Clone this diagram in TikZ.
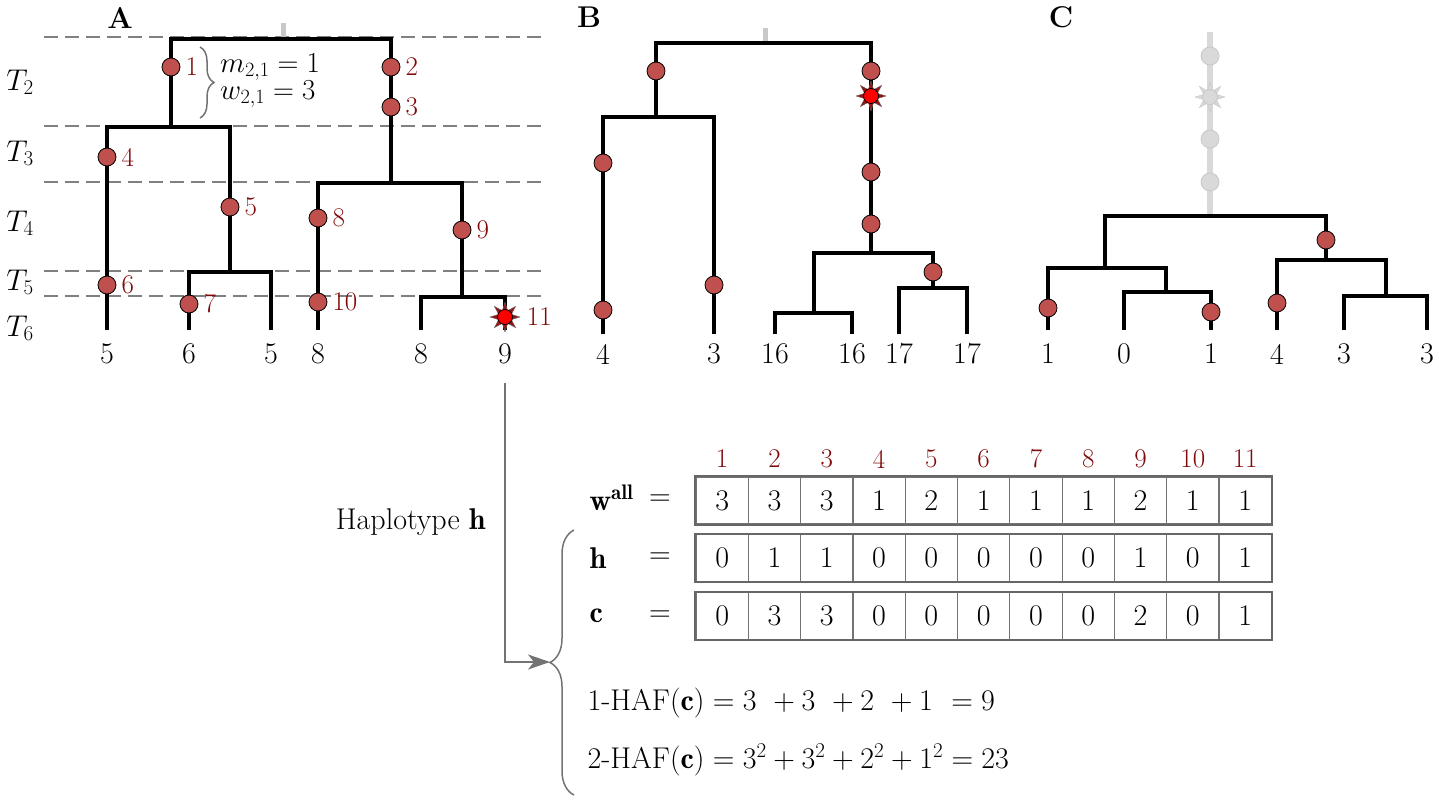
\RequirePackage{fix-cm}
\documentclass[tikz,border=0pt]{standalone}
\usepackage{fontspec}
\usepackage{amsmath}
\usetikzlibrary{calc}
\usetikzlibrary{arrows.meta}
\usetikzlibrary{shapes.geometric}
\usetikzlibrary{decorations.pathreplacing}
\definecolor{mutfill}{RGB}{192,80,77}
\definecolor{labred}{RGB}{128,10,10}
\definecolor{spike}{RGB}{150,20,20}
\definecolor{ghost}{RGB}{217,217,217}
\definecolor{ghostline}{RGB}{200,200,200}

\begin{document}
\begin{tikzpicture}[x=1pt,y=-1pt,font=\fontsize{30}{36}\selectfont,
  branch/.style={line width=3.5pt},
  level/.style={gray,dash pattern=on 14pt off 7pt,line width=2.8pt},
  stub/.style={ghostline,line width=5pt},
  mut/.style={circle,fill=mutfill,draw=black,line width=0.8pt,minimum size=18pt,inner sep=0pt},
  gmut/.style={circle,fill=ghost,draw=ghostline,line width=0.8pt,minimum size=18pt,inner sep=0pt},
  spikes/.style={star,star points=8,star point ratio=2.2,fill=spike,draw=black!60,line width=0.4pt,minimum size=30pt,inner sep=0pt},
  gspikes/.style={star,star points=8,star point ratio=2.2,fill=ghost,draw=ghostline,line width=0.4pt,minimum size=30pt,inner sep=0pt},
  core/.style={circle,fill=red,draw=black,line width=0.8pt,minimum size=15pt,inner sep=0pt},
  gcore/.style={circle,fill=ghost,draw=ghostline,line width=0.8pt,minimum size=15pt,inner sep=0pt},
  mlab/.style={labred,font=\fontsize{27}{32}\selectfont,anchor=west,inner sep=0pt},
  leaflab/.style={inner sep=3pt},
  cell/.style={draw=black!55,line width=1.2pt,minimum width=52.3pt,minimum height=47pt,inner sep=0pt},
  frame/.style={draw=black!60,line width=2pt},
  brc/.style={draw=black!55,line width=1.5pt,decorate},
  conn/.style={draw=black!55,line width=1.5pt}]
\useasboundingbox (0,0) rectangle (1439,800);

% time levels of A
\foreach \ly in {37,126,182,271,296}
  \draw[level] (44,\ly) -- (546,\ly);
\foreach \k/\ly in {2/82,3/153,4/223,5/282,6/328}
  \node (T\k) at (20,\ly) {$T_{\k}$};

% panel letters
\node (pA) at (120,18) {\textbf{A}};
\node (pB) at (589,17) {\textbf{B}};
\node (pC) at (1061,17) {\textbf{C}};

% tree A
\coordinate (A0) at (283,39);
\coordinate (A1) at (171,127);
\coordinate (A2) at (391,183);
\coordinate (A3) at (230,272);
\coordinate (A4) at (462,297);
\coordinate (a1) at (107,330);
\coordinate (a2) at (189,330);
\coordinate (a3) at (271,330);
\coordinate (a4) at (318,330);
\coordinate (a5) at (421,330);
\coordinate (a6) at (505,330);
\draw[stub] (A0) -- ++(0,-16);
\draw[branch] (A1) |- (A0) -| (A2);
\draw[branch] (a1) |- (A1) -| (A3);
\draw[branch] (a2) |- (A3) -| (a3);
\draw[branch] (a4) |- (A2) -| (A4);
\draw[branch] (a5) |- (A4) -| (a6);
\foreach \n/\x/\y in {1/171/67,2/391/67,3/391/107,4/107/157,5/230/207,6/107/285,
                      7/189/304,8/318/218,9/462/230,10/318/302}{
  \node[mut] (m\n) at (\x,\y) {};
  \node[mlab] (lm\n) at ([xshift=5pt]m\n.east) {\n};
}
\node[spikes] (m11s) at (505,317) {};
\node[core] (m11) at (505,317) {};
\node[mlab] (lm11) at ([xshift=6pt]m11s.east) {11};
\draw[brc,decoration={brace,amplitude=14pt}] (200,47) -- (200,118);
\node[anchor=west,inner sep=0pt,font=\fontsize{29}{34}\selectfont] (mA) at (220,67) {$m_{2,1}=1$};
\node[anchor=west,inner sep=0pt,font=\fontsize{29}{34}\selectfont] (wA) at (220,94) {$w_{2,1}=3$};
\foreach \p/\t in {a1/5,a2/6,a3/5,a4/8,a5/8,a6/9}
  \node[leaflab] (l\p) at (\p |- 0,354) {\t};

% tree B
\coordinate (B0) at (765,43);
\coordinate (B1) at (656,117);
\coordinate (B2) at (871,253);
\coordinate (B3) at (814,313);
\coordinate (B4) at (933,288);
\coordinate (b1) at (603,334);
\coordinate (b2) at (714,334);
\coordinate (b3) at (775,334);
\coordinate (b4) at (852,334);
\coordinate (b5) at (899,334);
\coordinate (b6) at (967,334);
\draw[stub] (B0) -- ++(0,-15);
\draw[branch] (B1) |- (B0) -| (B2);
\draw[branch] (b1) |- (B1) -| (b2);
\draw[branch] (B3) |- (B2) -| (B4);
\draw[branch] (b3) |- (B3) -| (b4);
\draw[branch] (b5) |- (B4) -| (b6);
\foreach \n/\x/\y in {1/656/71,2/603/163,3/603/310,4/714/285,5/871/71,6/871/172,7/871/224,8/933/272}
  \node[mut] (mb\n) at (\x,\y) {};
\node[spikes] (mbss) at (871,96) {};
\node[core] (mbs) at (871,96) {};
\foreach \p/\t in {b1/4,b2/3,b3/16,b4/16,b5/17,b6/17}
  \node[leaflab] (l\p) at (\p |- 0,354) {\t};

% tree C
\coordinate (C0) at (1210,216);
\coordinate (C1) at (1105,268);
\coordinate (C2) at (1326,260);
\coordinate (C3) at (1166,292);
\coordinate (C4) at (1386,296);
\coordinate (c1) at (1048,330);
\coordinate (c2) at (1124,330);
\coordinate (c3) at (1211,330);
\coordinate (c4) at (1277,330);
\coordinate (c5) at (1344,330);
\coordinate (c6) at (1427,330);
\draw[ghost,line width=6pt] (C0) -- (1210,32);
\foreach \n/\y in {1/56,2/139,3/182}
  \node[gmut] (mg\n) at (1210,\y) {};
\node[gspikes] (mgss) at (1210,97) {};
\node[gcore] (mgs) at (1210,97) {};
\draw[branch] (C1) |- (C0) -| (C2);
\draw[branch] (c1) |- (C1) -| (C3);
\draw[branch] (c2) |- (C3) -| (c3);
\draw[branch] (c4) |- (C2) -| (C4);
\draw[branch] (c5) |- (C4) -| (c6);
\foreach \n/\x/\y in {1/1326/240,2/1048/308,3/1211/312,4/1277/303}
  \node[mut] (mc\n) at (\x,\y) {};
\foreach \p/\t in {c1/1,c2/0,c3/1,c4/4,c5/3,c6/3}
  \node[leaflab] (l\p) at (\p |- 0,354) {\t};

% haplotype arrow and brace
\coordinate (tip) at (550,662);
\draw[brc,decoration={brace,amplitude=24pt}] (574,795) -- (574,530);
\draw[conn,-{Stealth[length=22pt,width=15pt,inset=6pt]}] ([yshift=-16pt]la6.south) |- (tip);
\node[anchor=east] (hap) at (489,522) {Haplotype $\mathbf{h}$};

% table
\foreach \i in {1,...,11}
  \node[labred,font=\fontsize{27}{32}\selectfont] (i\i) at ({696+52.3*(\i-0.5)},459) {\i};
\foreach \v [count=\i] in {3,3,3,1,2,1,1,1,2,1,1}
  \node[cell] (w\i) at ({696+52.3*(\i-0.5)},500.5) {\v};
\foreach \v [count=\i] in {0,1,1,0,0,0,0,0,1,0,1}
  \node[cell] (h\i) at ({696+52.3*(\i-0.5)},558) {\v};
\foreach \v [count=\i] in {0,3,3,0,0,0,0,0,2,0,1}
  \node[cell] (c\i) at ({696+52.3*(\i-0.5)},616) {\v};
\draw[frame] (w1.north west) rectangle (w11.south east);
\draw[frame] (h1.north west) rectangle (h11.south east);
\draw[frame] (c1.north west) rectangle (c11.south east);
\node[anchor=west] (rw) at (586,498) {$\mathbf{w}^{\mathbf{all}}$};
\node[anchor=west] (rh) at (586,558) {$\mathbf{h}$};
\node[anchor=west] (rc) at (586,616) {$\mathbf{c}$};
\foreach \r/\ly in {w/500,h/558,c/616}
  \node (eq\r) at (660,\ly) {$=$};
\node[anchor=west] (haf1) at (584,702) {1-HAF$(\mathbf{c}) = 3\phantom{^2} + 3\phantom{^2} + 2\phantom{^2} + 1\phantom{^2} = 9$};
\node[anchor=west] (haf2) at (584,760) {2-HAF$(\mathbf{c}) = 3^2 + 3^2 + 2^2 + 1^2 = 23$};
\end{tikzpicture}
\end{document}
